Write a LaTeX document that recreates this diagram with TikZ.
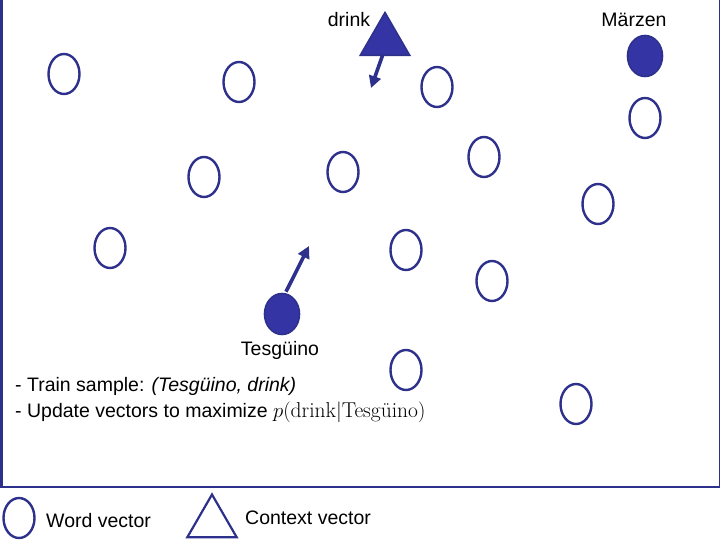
\documentclass[tikz,border=0pt]{standalone}
\usepackage{fontspec}
\setsansfont{Liberation Sans}
\usetikzlibrary{shapes.geometric,arrows.meta}
\definecolor{navy}{RGB}{46,49,140}
\definecolor{navyfill}{RGB}{52,52,165}
\tikzset{
  wvec/.style={ellipse,draw=navy,line width=2.4pt,minimum width=31pt,minimum height=40pt,inner sep=0pt},
  wfill/.style={wvec,fill=navyfill,minimum width=35pt,minimum height=41pt,line width=1.6pt},
  cvec/.style={regular polygon,regular polygon sides=3,draw=navy,inner sep=0pt,minimum size=57pt},
  lbl/.style={font=\sffamily\fontsize{19.5}{23}\selectfont,inner sep=0pt},
  upd/.style={draw=navy,line width=3.6pt,-{Triangle[width=12pt,length=12pt]}}
}
\begin{document}
\begin{tikzpicture}[x=1pt,y=-1pt]
\useasboundingbox (0,0) rectangle (720,540);
% frame
\draw[navy,line width=2.6pt] (1.3,0) -- (1.3,487) -- (719.5,487);
\draw[navy,line width=1.2pt] (719.4,0) -- (719.4,487);
% word vectors
\node[wvec] (w1) at (64,74) {};
\node[wvec] (w2) at (239,82) {};
\node[wvec] (w3) at (437,87) {};
\node[wvec] (w4) at (645,118) {};
\node[wvec] (w5) at (204,177) {};
\node[wvec] (w6) at (343,172) {};
\node[wvec] (w7) at (484,157) {};
\node[wvec] (w8) at (598,204) {};
\node[wvec] (w9) at (110,248) {};
\node[wvec] (w10) at (406,250) {};
\node[wvec] (w11) at (492,281) {};
\node[wvec] (w12) at (406,370) {};
\node[wvec] (w13) at (576,404) {};
% highlighted
\node[wfill] (marzen) at (645,56) {};
\node[wfill] (tesg) at (282,314) {};
\node[cvec,fill=navyfill,line width=1.6pt] (drink) at (385,41) {};
% labels
\node[lbl] (ldrink) at (349,20) {drink};
\node[lbl] (lmarzen) at (634,20) {Märzen};
\node[lbl] (ltesg) at (280,350) {Tesgüino};
% updates
\coordinate (dtip) at (371,88);
\coordinate (ttip) at (309,246);
\draw[upd] ([xshift=-2pt,yshift=2pt]drink.south) -- (dtip);
\draw[upd] ([xshift=4pt,yshift=1pt]tesg.north) -- (ttip);
% text
\node[lbl,anchor=west] (t1) at (15,386) {- Train sample: \textit{(Tesgüino, drink)}};
\node[lbl,anchor=west] (t2) at (15,412) {- Update vectors to maximize {\rmfamily\fontsize{21.5}{24}\selectfont $p($drink$|$Tesgüino$)$}};
% legend
\node[wvec] (lw) at (19,518) {};
\node[lbl,anchor=west] (lwt) at (46,521) {Word vector};
\node[cvec,line width=2.2pt] (lc) at (212,523) {};
\node[lbl,anchor=west] (lct) at (245,518) {Context vector};
\end{tikzpicture}
\end{document}
